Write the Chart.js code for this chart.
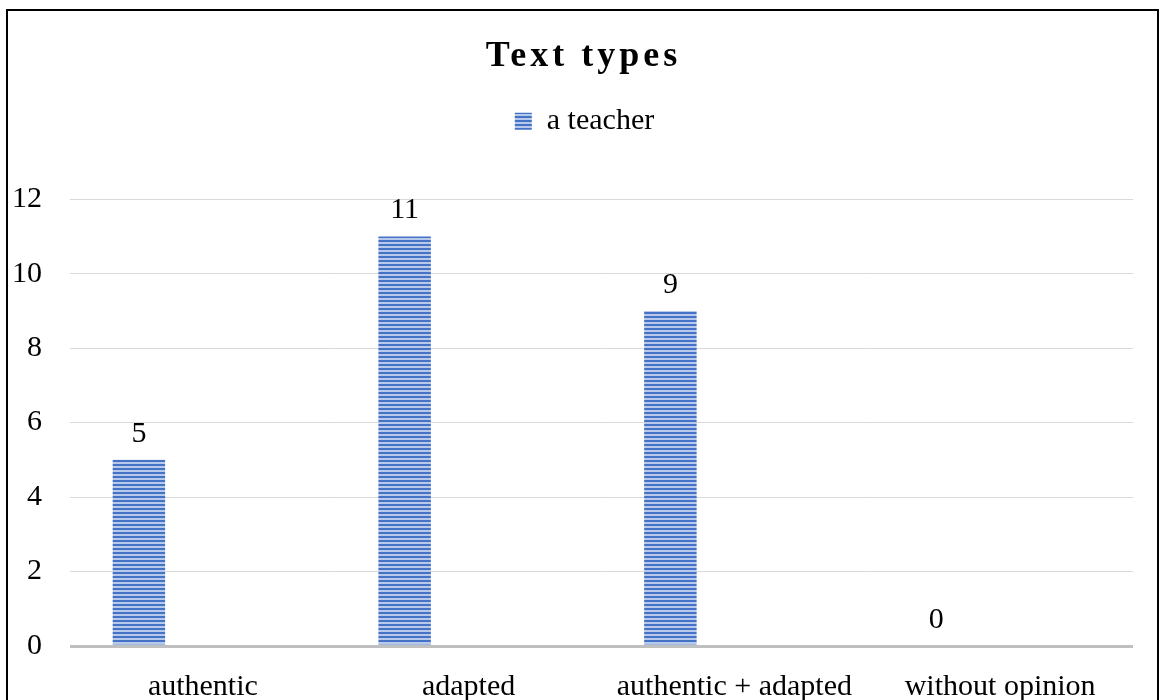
<!DOCTYPE html>
<html>
<head>
<meta charset="utf-8">
<title>Text types</title>
<script src="https://cdn.jsdelivr.net/npm/chart.js@4/dist/chart.umd.min.js"></script>
<style>
    html, body { margin: 0; padding: 0; background: #fff; overflow: hidden; }
    #wrap { position: relative; width: 1161px; height: 700px; }
    #frame {
        position: absolute; left: 6px; top: 9px;
        width: 1153px; height: 720px;
        box-sizing: border-box; border: 2px solid #000;
        pointer-events: none;
    }
</style>
</head>
<body>
<div id="wrap">
    <canvas id="textTypesChart"></canvas>
    <div id="frame"></div>
</div>
<script>
// Survey answers: which text types are used
const categories = ['authentic', 'adapted', 'authentic + adapted', 'without opinion'];
const teacherValues = [5, 11, 9, 0];
const emptySeries = [null, null, null, null];
const yTicks = [0, 2, 4, 6, 8, 10, 12];

const SERIF = '"Liberation Serif", "Times New Roman", serif';

// Horizontal stripe fill for the bars
function makeStripePattern() {
    const c = document.createElement('canvas');
    c.width = 4;
    c.height = 4;
    const g = c.getContext('2d');
    g.fillStyle = '#b7c8ea';
    g.fillRect(0, 0, 4, 4);
    g.fillStyle = '#4472c4';
    g.fillRect(0, 0, 4, 2);
    return g.createPattern(c, 'repeat');
}

// Value labels above each bar of the first series
const valueLabels = {
    id: 'valueLabels',
    afterDatasetsDraw(chart) {
        const ctx = chart.ctx;
        const meta = chart.getDatasetMeta(0);
        ctx.save();
        ctx.font = '30px ' + SERIF;
        ctx.fillStyle = '#000';
        ctx.textAlign = 'center';
        ctx.textBaseline = 'alphabetic';
        meta.data.forEach((bar, i) => {
            ctx.fillText(String(teacherValues[i]), bar.x, bar.y - 18);
        });
        ctx.restore();
    }
};

// Wrap a box's draw() with a shift and optional letter spacing
function wrapDraw(box, chart, dx, spacing) {
    const draw = box.draw;
    box.draw = function() {
        const ctx = chart.ctx;
        ctx.save();
        ctx.translate(dx, 0);
        if (spacing) ctx.letterSpacing = spacing;
        draw.apply(this, arguments);
        ctx.restore();
    };
}

// Letter-spaced title, shifted header and extra room under the legend
const layoutTweaks = {
    id: 'layoutTweaks',
    afterInit(chart) {
        const legend = chart.legend;
        const fit = legend.fit;
        legend.fit = function() {
            fit.call(this);
            this.height += 53;
        };
        wrapDraw(chart.titleBlock, chart, 17, '4px');
        wrapDraw(legend, chart, 18, null);
    }
};

const stripes = makeStripePattern();

new Chart(document.getElementById('textTypesChart'), {
    type: 'bar',
    data: {
        labels: categories,
        datasets: [{
            label: 'a teacher',
            data: teacherValues,
            backgroundColor: stripes,
            borderWidth: 0,
            categoryPercentage: 0.963,
            barPercentage: 0.41
        }, {
            label: '',
            data: emptySeries,
            backgroundColor: '#ed7d31',
            categoryPercentage: 0.963,
            barPercentage: 0.41
        }]
    },
    options: {
        responsive: true,
        maintainAspectRatio: false,
        animation: false,
        layout: { padding: { left: 0, right: 28, top: 0, bottom: 0 } },
        plugins: {
            title: {
                display: true,
                text: 'Text types',
                color: '#000',
                font: { family: SERIF, size: 36, weight: 'bold' },
                padding: { top: 35, bottom: 18 }
            },
            legend: {
                display: true,
                labels: {
                    color: '#000',
                    font: { family: SERIF, size: 30 },
                    boxWidth: 17,
                    boxHeight: 17,
                    padding: 10,
                    filter: item => item.text !== ''
                }
            },
            tooltip: { enabled: false }
        },
        scales: {
            x: {
                grid: { display: false },
                border: { display: false },
                ticks: {
                    color: '#000',
                    font: { family: SERIF, size: 30 },
                    padding: 15,
                    maxRotation: 0,
                    autoSkip: false
                },
                afterFit(scale) { scale.height = 54; }
            },
            y: {
                min: 0,
                max: 12,
                afterBuildTicks(scale) {
                    scale.ticks = yTicks.map(v => ({ value: v }));
                },
                border: { display: false },
                grid: {
                    drawTicks: false,
                    color: ctx => ctx.tick && ctx.tick.value === 0 ? '#bfbfbf' : '#d9d9d9',
                    lineWidth: ctx => ctx.tick && ctx.tick.value === 0 ? 3 : 1
                },
                ticks: {
                    color: '#000',
                    font: { family: SERIF, size: 30 },
                    padding: 28
                },
                afterFit(scale) { scale.width = 70; }
            }
        }
    },
    plugins: [valueLabels, layoutTweaks]
});
</script>
</body>
</html>
